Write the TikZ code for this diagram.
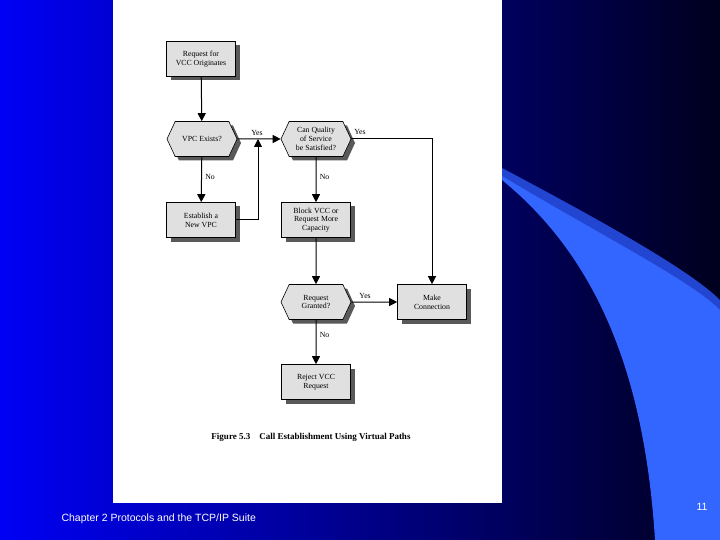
\documentclass[tikz,border=0pt]{standalone}
\usepackage{fontspec}
\setmainfont{Liberation Serif}
\newfontfamily\footfont{Liberation Sans}
\usetikzlibrary{shapes.geometric,shapes.symbols,arrows.meta,calc}
\definecolor{boxfill}{RGB}{224,224,224}
\definecolor{swoosh}{RGB}{51,102,255}
\definecolor{swoosh2}{RGB}{35,70,210}
\tikzset{
  every node/.style={font=\fontsize{7.8}{8.8}\selectfont, align=center},
  procbox/.style={draw, line width=0.6pt, fill=boxfill, minimum width=69pt, minimum height=35pt, inner sep=1pt},
  hexa/.style={draw, line width=0.6pt, fill=boxfill, shape=signal, signal to=west and east, signal pointer angle=130, minimum width=70pt, minimum height=35pt, inner sep=0pt},
  conn/.style={line width=1pt, -{Triangle[length=8pt,width=8pt]}},
  lbl/.style={font=\fontsize{7.8}{8.8}\selectfont},
}
\begin{document}
\begin{tikzpicture}[x=1pt,y=-1pt]
\useasboundingbox (0,0) rectangle (720,540);
\shade[left color={rgb,255:red,0;green,0;blue,245}, right color={rgb,255:red,0;green,0;blue,30}] (0,0) rectangle (720,540);
\fill[swoosh2] (502,168) .. controls (600,220) and (690,270) .. (720,300) -- (720,540) -- (690,540) .. controls (670,400) and (600,260) .. (502,178) -- cycle;
\fill[swoosh] (502,180) .. controls (600,260) and (645,380) .. (655,540) -- (720,540) -- (720,310) .. controls (690,280) and (600,235) .. (502,176) -- cycle;
\fill[white] (113,0) rectangle (502,503);
% shadows
\foreach \x/\y in {201/59,201/220,316/220,432/302,316/382}
  \fill[black!65] (\x+4-34.5,\y+4-17.5) rectangle (\x+4+34.5,\y+4+17.5);
\foreach \x/\y in {202/139,316/139,316/302}
  \fill[black!65] (\x+4-35,\y+4) -- (\x+4-27,\y+4-17.5) -- (\x+4+27,\y+4-17.5) -- (\x+4+35,\y+4) -- (\x+4+27,\y+4+17.5) -- (\x+4-27,\y+4+17.5) -- cycle;
\node[procbox] (req) at (201,59) {Request for\\VCC Originates};
\node[hexa] (vpc) at (202,139) {VPC Exists?};
\node[hexa] (qos) at (316,139) {Can Quality\\of Service\\be Satisfied?};
\node[procbox] (est) at (201,220) {Establish a\\New VPC};
\node[procbox] (blk) at (316,220) {Block VCC or\\Request More\\Capacity};
\node[hexa] (gr) at (316,302) {Request\\Granted?};
\node[procbox] (mk) at (432,302) {Make\\Connection};
\node[procbox] (rej) at (316,382) {Reject VCC\\Request};
\coordinate (j) at (258,139);
\draw[conn] (req) -- (vpc);
\draw[conn] (vpc) -- (qos);
\draw[conn] (vpc) -- node[lbl,right,pos=0.45]{No} (est);
\draw[conn] (est.east) -| (j);
\draw[conn] (qos) -- node[lbl,right,pos=0.45]{No} (blk);
\draw[conn] (qos.east) -| (mk.north);
\draw[conn] (blk) -- (gr);
\draw[conn] (gr) -- node[lbl,above,pos=0.3]{Yes} (mk);
\draw[conn] (gr) -- node[lbl,right,pos=0.35]{No} (rej);
\node[lbl] (y1) at (257,133) {Yes};
\node[lbl] (y2) at (360,132) {Yes};
\node[font=\bfseries\fontsize{9}{10}\selectfont] (cap) at (311,437) {Figure 5.3\quad Call Establishment Using Virtual Paths};
\node[font=\footfont\fontsize{10.5}{12}\selectfont, text=white, anchor=west] (ft) at (58,519) {Chapter 2 Protocols and the TCP/IP Suite};
\node[font=\footfont\fontsize{10.5}{12}\selectfont, text=white] (pg) at (702,507) {11};
\end{tikzpicture}
\end{document}
